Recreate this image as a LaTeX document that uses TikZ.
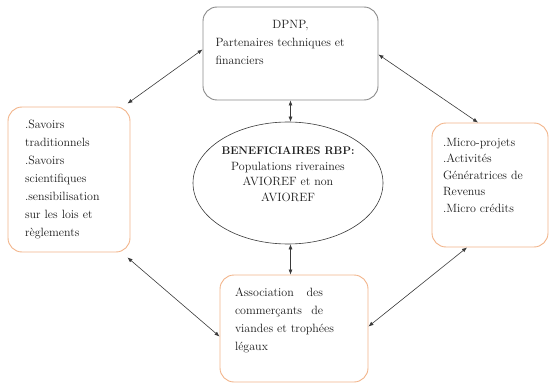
\documentclass[tikz,border=0pt]{standalone}
\usepackage{fontspec}
\usetikzlibrary{arrows.meta,shapes.geometric}
\definecolor{ChartInk}{HTML}{1A1A1A}
\definecolor{ChartFrame}{HTML}{8A8A8A}
\definecolor{ChartOrange}{HTML}{F2B48A}
\definecolor{ChartLink}{HTML}{3A3A3A}
\tikzset{
  every node/.style={font=\fontsize{12}{18}\selectfont, text=ChartInk},
  partner/.style={draw=ChartFrame, line width=0.9pt, rounded corners=14pt, fill=white, inner sep=0pt},
  actor/.style={draw=ChartOrange, line width=0.9pt, rounded corners=14pt, fill=white, inner sep=0pt},
  core/.style={ellipse, draw=ChartLink, line width=0.6pt, inner sep=0pt},
  link/.style={{Latex[length=5pt,width=4pt]}-{Latex[length=5pt,width=4pt]}, draw=ChartLink, line width=0.6pt},
}

\begin{document}
\begin{tikzpicture}[x=1pt,y=-1pt]
  \useasboundingbox (0,0) rectangle (551,385);
  % Partners on top
  \node[partner, minimum width=175pt, minimum height=93pt] (dpnp) at (290.5,53.5)
    {\parbox[c][93pt][t]{150pt}{\vspace*{13pt}\centering DPNP,\par
     \raggedright Partenaires techniques et\\ financiers}};
  % Knowledge box on the left
  \node[actor, minimum width=122pt, minimum height=145pt, text width=88pt, align=left] (savoirs) at (69,179.5)
    {.Savoirs\\ traditionnels\\ .Savoirs\\ scientifiques\\ .sensibilisation\\ sur les lois et\\ règlements};
  % Projects box on the right
  \node[actor, minimum width=116pt, minimum height=124pt] (projets) at (490,185)
    {\parbox[c][124pt][t]{94pt}{\fontsize{12}{16.5}\selectfont\vspace*{15pt}\raggedright
     .Micro-projets\\ .Activités\\ Génératrices de\\ Revenus\\ .Micro crédits}};
  % Traders at the bottom
  \node[actor, minimum width=148pt, minimum height=107pt] (assoc) at (294,328.5)
    {\parbox[c][107pt][t]{118pt}{\vspace*{13pt}\raggedright
     \makebox[88pt][s]{Association des}\\ \makebox[88pt][s]{commerçants de}\\
     viandes et trophées\\ légaux}};
  % Beneficiaries in the middle
  \node[core, minimum width=190pt, minimum height=122pt] (benef) at (288,183)
    {\parbox[c][80pt][t]{134pt}{\fontsize{12}{15.5}\selectfont\vspace*{4pt}\centering
     {\fontsize{11}{15.5}\selectfont\bfseries BENEFICIAIRES RBP:}\\ Populations riveraines\\
     AVIOREF et non\\ AVIOREF}};
  % Links
  \draw[link] ([yshift=4pt]dpnp.west) -- ([shift={(-3pt,3pt)}]savoirs.north east);
  \draw[link] ([yshift=-1pt]dpnp.east) -- ([xshift=-12pt]projets.north);
  \draw[link] (dpnp.south) -- (dpnp.south |- benef.north);
  \draw[link] (dpnp.south |- benef.south) -- (dpnp.south |- assoc.north);
  \draw[link] ([shift={(-3pt,-5pt)}]savoirs.south east) -- ([yshift=-8pt]assoc.west);
  \draw[link] ([xshift=-23pt]projets.south) -- ([yshift=2pt]assoc.east);
\end{tikzpicture}
\end{document}
